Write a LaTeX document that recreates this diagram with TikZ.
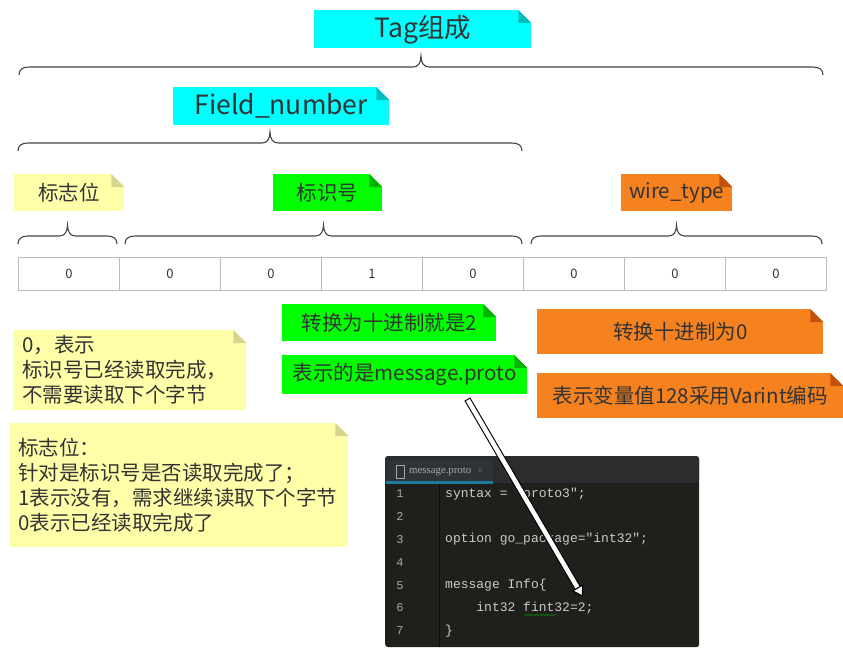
\documentclass[tikz,border=0pt]{standalone}
\usepackage{fontspec}
\setmainfont{Noto Sans CJK SC}
\newfontfamily\codefont{Liberation Mono}
\newfontfamily\tabfont{Liberation Serif}
\usetikzlibrary{calc,arrows.meta,decorations.pathmorphing}

\definecolor{txt}{HTML}{333333}
\definecolor{notey}{HTML}{FFFFAA}
\definecolor{foldy}{HTML}{D6D68E}
\definecolor{notec}{HTML}{00FFFF}
\definecolor{foldc}{HTML}{00BDBD}
\definecolor{noteg}{HTML}{00FF00}
\definecolor{foldg}{HTML}{00B400}
\definecolor{noteo}{HTML}{F5821F}
\definecolor{foldo}{HTML}{C2530A}
\definecolor{bracec}{HTML}{444444}
\definecolor{cellc}{HTML}{BBBBBB}
\definecolor{codebg}{HTML}{1F201C}
\definecolor{tabbar}{HTML}{2A2C2E}
\definecolor{tabbg}{HTML}{303336}
\definecolor{tabline}{HTML}{1C7C9C}
\definecolor{codetxt}{HTML}{CACACA}
\definecolor{lnum}{HTML}{A8A8A8}

\newcommand\bigfont{\fontsize{26.5}{30}\selectfont}
\newcommand\notefont{\fontsize{20.5}{25}\selectfont}

% folded corner of a note
\newcommand\fold[2]{%
  \fill[white] ($(#1.north east)+(-13,0)$) -- (#1.north east) -- ($(#1.north east)+(0,13)$) -- cycle;
  \fill[#2] ($(#1.north east)+(-13,0)$) -- ($(#1.north east)+(0,13)$) -- ($(#1.north east)+(-13,13)$) -- cycle;}

% curly brace: left x, right x, y of the ends
\newcommand\hbrace[3]{%
  \draw[bracec, line width=1.1pt]
    (#1,#3) .. controls (#1,#3-5) and (#1+3,#3-8) .. (#1+10,#3-8)
    -- ({(#1+#2)/2-8},#3-8) .. controls ({(#1+#2)/2-3},#3-8) and ({(#1+#2)/2},#3-12) .. ({(#1+#2)/2},#3-19)
    .. controls ({(#1+#2)/2},#3-12) and ({(#1+#2)/2+3},#3-8) .. ({(#1+#2)/2+8},#3-8)
    -- (#2-10,#3-8) .. controls (#2-3,#3-8) and (#2,#3-5) .. (#2,#3);}

\tikzset{
  note/.style={fill=#1, inner sep=0pt, anchor=north west, text=txt, font=\notefont},
  cell/.style={draw=cellc, line width=0.8pt, minimum width=101pt, minimum height=33pt,
    inner sep=0pt, anchor=north west, text=txt, font=\fontsize{13}{13}\selectfont},
  codeline/.style={anchor=west, inner sep=0pt, text=codetxt, font=\codefont\fontsize{13}{13}\selectfont},
  lnstyle/.style={anchor=center, inner sep=0pt, text=lnum, font=\codefont\fontsize{12}{12}\selectfont},
  bigarrow/.style={draw=black, line width=1.1pt, double=white, double distance=4.5pt, line cap=rect,
    -{Triangle[width=13pt, length=11pt, fill=white, line width=1.1pt]}}
}

\begin{document}
\begin{tikzpicture}[x=1pt, y=-1pt]
  \useasboundingbox (0,0) rectangle (843,669);

  % labels and braces
  \node[note=notec, minimum width=217pt, minimum height=38pt, font=\bigfont] (tag) at (314,10) {Tag组成};
  \fold{tag}{foldc}
  \hbrace{19}{823}{75}
  \node[note=notec, minimum width=216pt, minimum height=38pt, font=\bigfont] (field) at (173,87) {Field\_number};
  \fold{field}{foldc}
  \hbrace{18}{522}{151}

  \node[note=notey, minimum width=110pt, minimum height=37pt] (flag) at (14,174) {标志位};
  \fold{flag}{foldy}
  \node[note=noteg, minimum width=109pt, minimum height=37pt] (ident) at (273,174) {标识号};
  \fold{ident}{foldg}
  \node[note=noteo, minimum width=111pt, minimum height=37pt] (wire) at (621,174) {wire\_type};
  \fold{wire}{foldo}
  \hbrace{18}{117}{244}
  \hbrace{125}{522}{244}
  \hbrace{531}{822}{244}

  % the byte
  \foreach \b [count=\i] in {0,0,0,1,0,0,0,0}
    \node[cell] (c\i) at ({18+(\i-1)*101},257) {\b};

  % notes
  \node[note=notey, minimum height=80pt, text width=215pt, inner xsep=9pt, align=left] (n0) at (13,330)
    {0，表示\\标识号已经读取完成，\\不需要读取下个字节};
  \fold{n0}{foldy}
  \node[note=notey, minimum height=124pt, text width=322pt, inner xsep=8pt, align=left] (nflag) at (10,423)
    {标志位：\\针对是标识号是否读取完成了；\\1表示没有，需求继续读取下个字节\\0表示已经读取完成了};
  \fold{nflag}{foldy}
  \node[note=noteg, minimum width=214pt, minimum height=37pt] (dec2) at (282,304) {转换为十进制就是2};
  \fold{dec2}{foldg}
  \node[note=noteg, minimum width=245pt, minimum height=39pt] (msg) at (282,355) {表示的是message.proto};
  \fold{msg}{foldg}
  \node[note=noteo, minimum width=286pt, minimum height=45pt] (dec0) at (537,309) {转换十进制为0};
  \fold{dec0}{foldo}
  \node[note=noteo, minimum width=306pt, minimum height=45pt] (varint) at (537,373) {表示变量值128采用Varint编码};
  \fold{varint}{foldo}

  % code window
  \node[fill=codebg, rounded corners=3pt, minimum width=314pt, minimum height=191pt,
    anchor=north west, inner sep=0pt] (win) at (385,456) {};
  \fill[tabbar, rounded corners=3pt] (385,456) rectangle (699,483);
  \fill[tabbar] (385,470) rectangle (699,483);
  \fill[tabbg] (386,460) rectangle (493,483);
  \fill[tabline] (386,481) rectangle (493,484);
  \draw[lnum, line width=0.8pt] (396,465) rectangle (404,478);
  \node[anchor=west, inner sep=0pt, text=lnum, font=\tabfont\fontsize{10.8}{11}\selectfont] (tabname) at (409,472) {message.proto};
  \node[anchor=west, inner sep=0pt, text=lnum!50!tabbg, font=\tabfont\fontsize{11}{11}\selectfont] (tabx) at (477,472) {×};
  \draw[black!60!codebg] (439,484) -- (439,647);
  \foreach \i in {1,...,7}
    \node[lnstyle] (l\i) at (400,{494+(\i-1)*22.8}) {\i};
  \node[codeline] (s1) at (445,494) {syntax = "proto3";};
  \node[codeline] (s3) at (445,539.6) {option go\_package="int32";};
  \node[codeline] (s5) at (445,585.2) {message Info\{};
  \node[codeline] (s6) at (445,608) {\phantom{xxxx}int32 fint32=2;};
  \node[codeline] (s7) at (445,630.8) {\}};
  \draw[green!60!black, decorate, decoration={snake, amplitude=0.8pt, segment length=3pt}]
    (524,615) -- (557,615);

  % arrow into the code
  \coordinate (arrS) at (469,402);
  \coordinate (arrE) at (583,597);
  \draw[bigarrow] (arrS) -- (arrE);
\end{tikzpicture}
\end{document}
